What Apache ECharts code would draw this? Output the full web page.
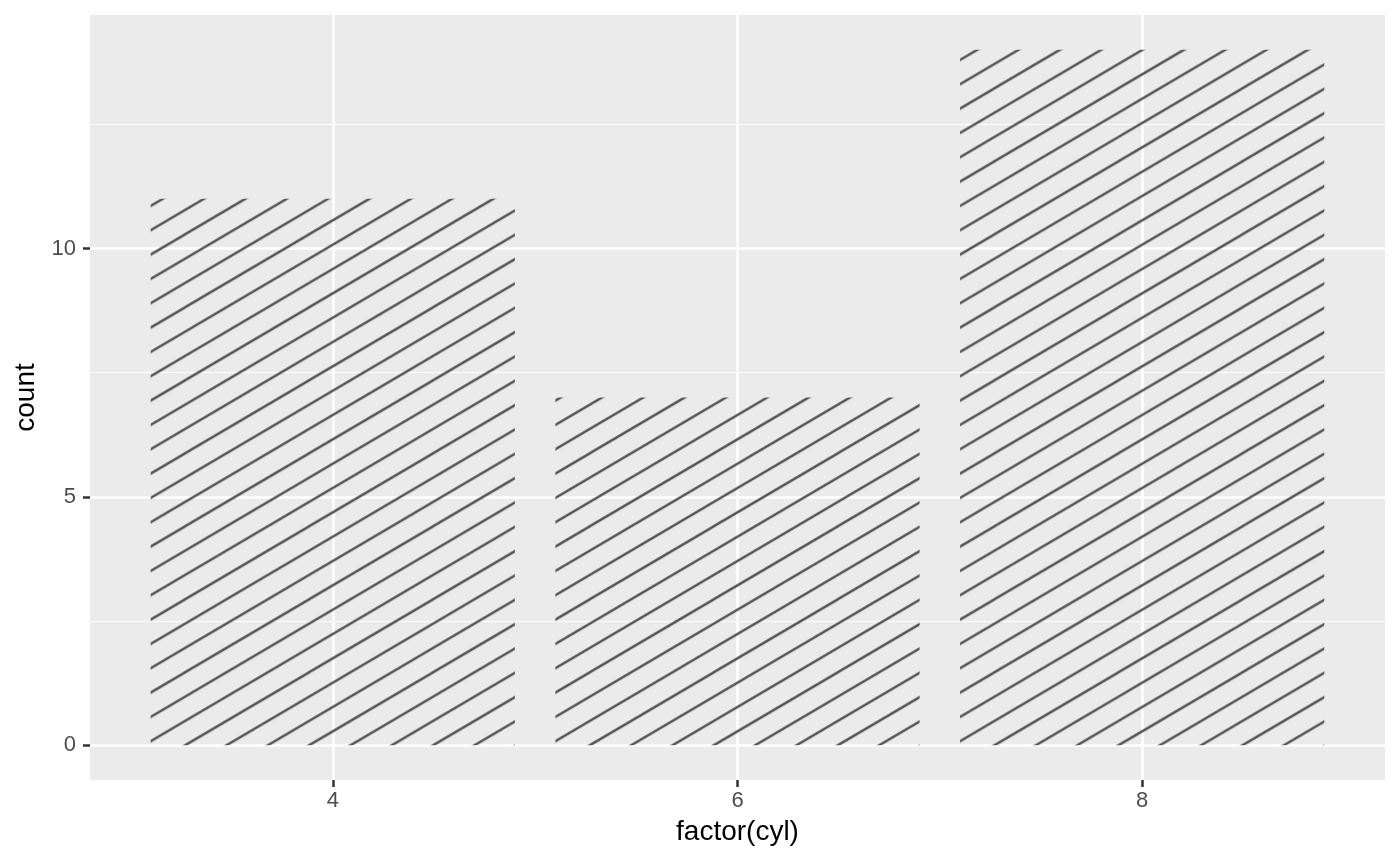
<!DOCTYPE html>
<html>
<head>
<meta charset="utf-8">
<script src="https://cdn.jsdelivr.net/npm/echarts@6/dist/echarts.min.js"></script>
<style>
  html, body { margin: 0; padding: 0; background: #fff; }
  #chart { width: 1400px; height: 866px; }
</style>
</head>
<body>
<div id="chart"></div>
<script>
// data
const cyl = [4, 6, 8]
const counts = [11, 7, 14]
const xTicks = [4, 6, 8]
const yTicks = [0, 5, 10]
const yMinor = [2.5, 7.5, 12.5]

const BAR_W = 0.9 // half width in data units

// stripe tile: 3 parallel lines per tile, slope ~ 0.59
function makeStripeTile() {
  const W = 124, H = 73
  const c = document.createElement('canvas')
  c.width = W; c.height = H
  const ctx = c.getContext('2d')
  ctx.strokeStyle = '#505050'
  ctx.lineWidth = 2.4
  const s = H / W
  for (let k = -2; k <= 8; k++) {
    const ci = k * H / 3
    ctx.beginPath()
    ctx.moveTo(-10, ci + 10 * s)
    ctx.lineTo(W + 10, ci - (W + 10) * s)
    ctx.stroke()
  }
  return c
}
const tile = makeStripeTile()

const chart = echarts.init(document.getElementById('chart'))

const axisFont = { color: '#4d4d4d', fontSize: 22, fontFamily: 'Liberation Sans, Arial, sans-serif' }
const titleFont = { color: '#000', fontSize: 28, fontFamily: 'Liberation Sans, Arial, sans-serif' }

chart.setOption({
  backgroundColor: '#fff',
  animation: false,
  grid: { left: 90, right: 15, top: 15, bottom: 86, show: true, backgroundColor: '#ebebeb', borderWidth: 0 },
  xAxis: {
    type: 'value', min: 2.8, max: 9.2,
    name: 'factor(cyl)', nameLocation: 'middle', nameGap: 38, nameTextStyle: titleFont,
    axisLine: { show: false, onZero: false },
    axisTick: { show: true, length: 7, customValues: xTicks, lineStyle: { color: '#333', width: 2.5 } },
    axisLabel: { customValues: xTicks, margin: 10, ...axisFont },
    splitLine: { show: true, lineStyle: { color: '#fff', width: 2.5 } }
  },
  yAxis: [{
    type: 'value', min: -0.7, max: 14.7,
    name: 'count', nameLocation: 'middle', nameGap: 50, nameTextStyle: titleFont,
    axisLine: { show: false },
    axisTick: { show: true, length: 7, customValues: yTicks, lineStyle: { color: '#333', width: 2.5 } },
    axisLabel: { customValues: yTicks, margin: 14, ...axisFont },
    splitLine: { show: true, lineStyle: { color: '#fff', width: 2.5 } }
  }, {
    type: 'value', min: -0.7, max: 14.7, position: 'left',
    axisLine: { show: false },
    axisTick: { show: false, customValues: yMinor },
    axisLabel: { show: false, customValues: yMinor },
    splitLine: { show: true, lineStyle: { color: '#fff', width: 1.2 } }
  }],
  series: [{
    type: 'custom',
    data: cyl.map((c, i) => [c, counts[i]]),
    renderItem: function (params, api) {
      const x = api.value(0), n = api.value(1)
      const p0 = api.coord([x - BAR_W, 0])
      const p1 = api.coord([x + BAR_W, n])
      return {
        type: 'rect',
        shape: { x: p0[0], y: p1[1], width: p1[0] - p0[0], height: p0[1] - p1[1] },
        style: {
          fill: { image: tile, repeat: 'repeat', x: p0[0] + 34.5, y: p0[1] },
          stroke: null
        }
      }
    }
  }]
})

window.addEventListener('resize', () => chart.resize())
</script>
</body>
</html>
